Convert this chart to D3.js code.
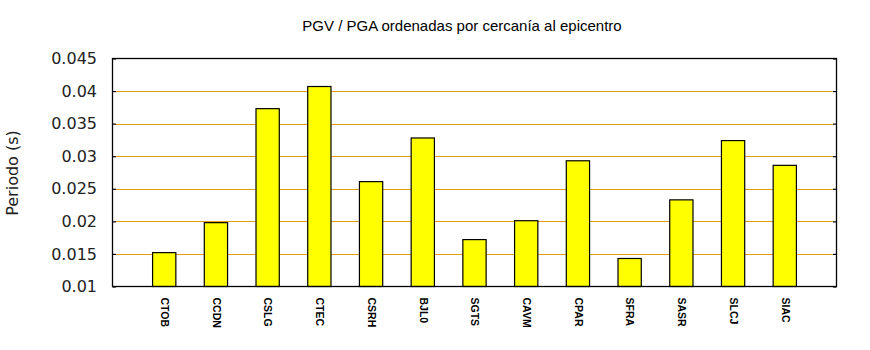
<!DOCTYPE html>
<html><head><meta charset="utf-8">
<script src="https://cdn.jsdelivr.net/npm/d3@7"></script>
<style>body{margin:0;background:#fff;} svg{display:block;}</style>
</head><body>
<svg id="c" width="870" height="350"></svg>
<script>
const categories = ["CTOB","CCDN","CSLG","CTEC","CSRH","BJL0","SGTS","CAVM","CPAR","SFRA","SASR","SLCJ","SIAC"];
const values = [0.0152,0.0198,0.0373,0.0407,0.0261,0.0328,0.0172,0.0201,0.0293,0.0143,0.0233,0.0324,0.0286];
const yTicks = [0.01,0.015,0.02,0.025,0.03,0.035,0.04,0.045];
const yTickLabels = ["0.01","0.015","0.02","0.025","0.03","0.035","0.04","0.045"];
const title = "PGV / PGA ordenadas por cercanía al epicentro";
const yTitle = "Periodo (s)";

const L=112.5, R=836.5, T=58.5, B=286.5;
const svg = d3.select("#c");
const x = d3.scaleLinear().domain([0, categories.length+1]).range([L,R]);
const y = d3.scaleLinear().domain([0.01,0.045]).range([B,T]);
const step = x(1)-x(0);
const bw = step*0.45;

// gridlines
svg.append("g").selectAll("line").data(yTicks.filter(d=>d>0.01 && d<0.045)).join("line")
  .attr("x1",L+3.5).attr("x2",R-3.5)
  .attr("y1",d=>Math.round(y(d))+0.5).attr("y2",d=>Math.round(y(d))+0.5)
  .attr("stroke","#e0a010").attr("stroke-width",1);

// bars
svg.append("g").selectAll("rect").data(values).join("rect")
  .attr("x",(d,i)=>x(i+1)-bw/2).attr("width",bw)
  .attr("y",d=>y(d)).attr("height",d=>B-y(d))
  .attr("fill","#ffff00").attr("stroke","#000").attr("stroke-width",1.2);

// left axis (inward ticks)
const yAxisL = d3.axisLeft(y).tickValues(yTicks).tickSize(-3.5).tickPadding(18)
  .tickFormat((d,i)=>yTickLabels[i]);
const gL = svg.append("g").attr("transform",`translate(${L},0)`).call(yAxisL);
gL.select(".domain").remove();
gL.selectAll(".tick line").attr("stroke","#000").attr("stroke-width",1.2);
gL.selectAll(".tick text").attr("font-family","DejaVu Sans").attr("font-size","16px").attr("fill","#222").attr("x",-15.5);

const yAxisR = d3.axisRight(y).tickValues(yTicks).tickSize(-3.5).tickFormat("");
const gR = svg.append("g").attr("transform",`translate(${R},0)`).call(yAxisR);
gR.select(".domain").remove();
gR.selectAll(".tick line").attr("stroke","#000").attr("stroke-width",1.2);

// frame
svg.append("rect").attr("x",L).attr("y",T).attr("width",R-L).attr("height",B-T)
  .attr("fill","none").attr("stroke","#000").attr("stroke-width",1.3);

// x labels
const xAxis = d3.axisBottom(x).tickValues(d3.range(1,categories.length+1)).tickSize(0)
  .tickFormat(d=>categories[d-1]);
const gX = svg.append("g").attr("transform",`translate(0,${B})`).call(xAxis);
gX.select(".domain").remove();
gX.selectAll(".tick text")
  .attr("font-family","Liberation Sans, Arial").attr("font-size","10.5px").attr("font-weight","bold").attr("fill","#000")
  .attr("text-anchor","start").attr("transform","rotate(90)")
  .attr("x",11).attr("y",0).attr("dy","0.35em");

// title
svg.append("text").attr("x",462).attr("y",31).attr("text-anchor","middle")
  .attr("font-family","Liberation Sans, Arial").attr("font-size","15px").attr("fill","#000").text(title);

// y title
svg.append("text").attr("transform","translate(17.5,173) rotate(-90)").attr("text-anchor","middle")
  .attr("font-family","DejaVu Sans").attr("font-size","16px").attr("fill","#222").text(yTitle);
</script>
</body></html>
